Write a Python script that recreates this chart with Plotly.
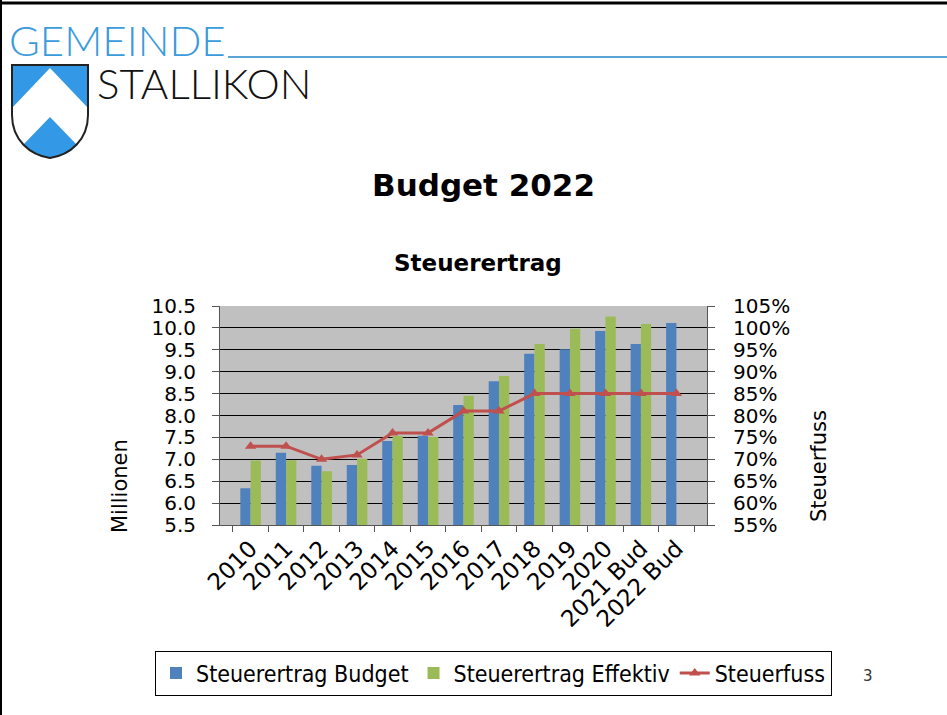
import plotly.graph_objects as go

categories = ["2010", "2011", "2012", "2013", "2014", "2015", "2016", "2017",
              "2018", "2019", "2020", "2021 Bud", "2022 Bud"]
budget = [6.34, 7.15, 6.85, 6.87, 7.42, 7.54, 8.24, 8.78, 9.41, 9.51, 9.93, 9.63, 10.11]
effektiv = [6.97, 6.98, 6.73, 7.01, 7.53, 7.51, 8.45, 8.90, 9.63, 9.98, 10.26, 10.09, None]
steuerfuss = [0.73, 0.73, 0.70, 0.71, 0.76, 0.76, 0.81, 0.81, 0.85, 0.85, 0.85, 0.85, 0.85]

W, H = 947, 715
ML, MR, MT, MB = 220, 240, 306, 190
PW, PH = W - ML - MR, H - MT - MB


def px(x):
    return (x - ML) / PW


def py(y):
    return (H - MB - y) / PH


def path(pts_cmds):
    out = []
    for cmd, coords in pts_cmds:
        s = cmd
        for (x, y) in coords:
            s += f" {px(x):.5f},{py(y):.5f}"
        out.append(s)
    return " ".join(out) + " Z"


TICKFONT = dict(family="DejaVu Sans, Verdana, sans-serif", size=20, color="#000")
XTICKFONT = dict(family="DejaVu Sans, Verdana, sans-serif", size=23, color="#000")
TITLEFONT = dict(family="DejaVu Sans, Verdana, sans-serif", size=21, color="#000")

fig = go.Figure()
fig.add_trace(go.Bar(x=categories, y=budget, name="Steuerertrag Budget",
                     marker=dict(color="#4F81BD", line=dict(width=0))))
fig.add_trace(go.Bar(x=categories, y=effektiv, name="Steuerertrag Effektiv",
                     marker=dict(color="#9BBB59", line=dict(width=0))))
fig.add_trace(go.Scatter(x=categories, y=steuerfuss, name="Steuerfuss", yaxis="y2",
                         mode="lines+markers",
                         line=dict(color="#C0504D", width=3),
                         marker=dict(symbol="triangle-up", size=10, color="#C0504D")))

shield_outer = path([
    ("M", [(12, 65)]), ("L", [(88, 65)]), ("L", [(88, 115)]),
    ("C", [(88, 140), (70, 155), (50, 158)]),
    ("C", [(30, 155), (12, 140), (12, 115)]),
])
chevron = path([
    ("M", [(50, 68)]), ("L", [(88, 108)]), ("L", [(88, 118)]),
    ("C", [(88, 128), (84, 138), (78, 146)]),
    ("L", [(50, 117)]), ("L", [(22, 146)]),
    ("C", [(16, 138), (12, 128), (12, 118)]),
    ("L", [(12, 108)]),
])

shapes = [
    dict(type="path", xref="paper", yref="paper", path=shield_outer,
         fillcolor="#3399E6", line=dict(width=0), layer="above"),
    dict(type="path", xref="paper", yref="paper", path=chevron,
         fillcolor="#FFFFFF", line=dict(width=0), layer="above"),
    dict(type="path", xref="paper", yref="paper", path=shield_outer,
         fillcolor="rgba(0,0,0,0)", line=dict(width=2, color="#222"), layer="above"),
    # blue line after GEMEINDE
    dict(type="line", xref="paper", yref="paper", x0=px(228), x1=px(947),
         y0=py(57), y1=py(57), line=dict(color="#5AA5D6", width=2)),
    # slide borders
    dict(type="line", xref="paper", yref="paper", x0=px(0), x1=px(947),
         y0=py(3), y1=py(3), line=dict(color="#000", width=3)),
    dict(type="line", xref="paper", yref="paper", x0=px(1), x1=px(1),
         y0=py(0), y1=py(715), line=dict(color="#000", width=2)),
]

annotations = [
    dict(text="GEMEINDE", x=px(7), y=py(40), xanchor="left", yanchor="middle",
         showarrow=False, xref="paper", yref="paper",
         font=dict(family="Lato, Noto Sans, sans-serif", size=42, color="#3A9BDC", weight=300)),
    dict(text="STALLIKON", x=px(95), y=py(83), xanchor="left", yanchor="middle",
         showarrow=False, xref="paper", yref="paper",
         font=dict(family="Lato, Noto Sans, sans-serif", size=42, color="#111", weight=300)),
    dict(text="<b>Budget 2022</b>", x=px(483), y=py(185), xanchor="center", yanchor="middle",
         showarrow=False, xref="paper", yref="paper",
         font=dict(family="DejaVu Sans, Verdana, sans-serif", size=31, color="#000")),
    dict(text="<b>Steuerertrag</b>", x=px(478), y=py(263), xanchor="center", yanchor="middle",
         showarrow=False, xref="paper", yref="paper",
         font=dict(family="DejaVu Sans, Verdana, sans-serif", size=23, color="#000")),
    dict(text="Millionen", x=px(120), y=py(486), xanchor="center", yanchor="middle",
         textangle=-90, showarrow=False, xref="paper", yref="paper", font=TITLEFONT),
    dict(text="Steuerfuss", x=px(819), y=py(466), xanchor="center", yanchor="middle",
         textangle=-90, showarrow=False, xref="paper", yref="paper", font=TITLEFONT),
    dict(text="3", x=px(868), y=py(676), xanchor="center", yanchor="middle",
         showarrow=False, xref="paper", yref="paper",
         font=dict(family="DejaVu Sans, sans-serif", size=15, color="#333")),
]

fig.update_layout(
    width=W, height=H,
    margin=dict(l=ML, r=MR, t=MT, b=MB, pad=0),
    paper_bgcolor="white", plot_bgcolor="#C0C0C0",
    barmode="group", bargap=0.42, bargroupgap=0,
    showlegend=True,
    legend=dict(orientation="h", x=px(832), y=py(673), xanchor="right", yanchor="middle",
                bordercolor="#000", borderwidth=1, bgcolor="white",
                font=dict(family="DejaVu Sans Condensed, Liberation Sans Narrow, sans-serif",
                          size=23, color="#000"),
                itemwidth=30, tracegroupgap=0),
    xaxis=dict(type="category", tickangle=-45, tickfont=XTICKFONT,
               showline=True, linecolor="#555", linewidth=1,
               ticks="outside", tickson="boundaries", ticklen=6, tickcolor="#555",
               showgrid=False),
    yaxis=dict(range=[5.5, 10.5], dtick=0.5, tick0=5.5, tickformat=".1f",
               tickfont=TICKFONT, showline=True, linecolor="#555", linewidth=1,
               ticks="outside", ticklen=7, tickcolor="#555",
               showgrid=True, gridcolor="#000", gridwidth=1, zeroline=False,
               ticklabelstandoff=12),
    yaxis2=dict(range=[0.55, 1.05], dtick=0.05, tick0=0.55, tickformat=".0%",
                overlaying="y", side="right", tickfont=TICKFONT,
                showline=True, linecolor="#555", linewidth=1,
                ticks="outside", ticklen=7, tickcolor="#555",
                showgrid=False, zeroline=False, ticklabelstandoff=14),
    shapes=shapes,
    annotations=annotations,
)

fig.write_html("out.html", config={"displayModeBar": False},
               post_script="document.body.style.margin='0';")
